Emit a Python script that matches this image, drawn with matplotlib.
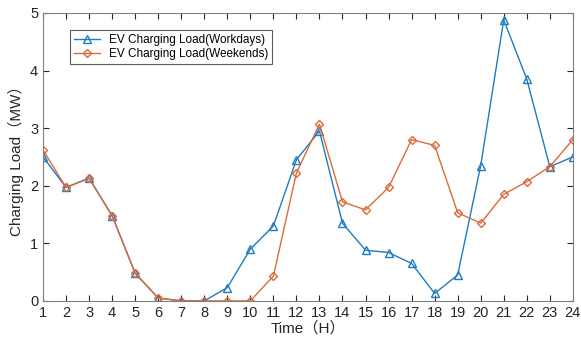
import matplotlib
matplotlib.use("Agg")
import matplotlib.pyplot as plt

# dati
hours = list(range(1, 25))
workdays = [2.50, 1.97, 2.13, 1.48, 0.48, 0.05, 0.00, 0.00, 0.23, 0.90, 1.30, 2.45,
            2.95, 1.35, 0.88, 0.84, 0.65, 0.13, 0.45, 2.35, 4.88, 3.85, 2.33, 2.50]
weekends = [2.62, 1.97, 2.13, 1.48, 0.48, 0.05, 0.00, 0.00, 0.00, 0.00, 0.43, 2.22,
            3.07, 1.72, 1.58, 1.97, 2.80, 2.70, 1.53, 1.35, 1.85, 2.07, 2.33, 2.80]

plt.rcParams['font.family'] = ['Liberation Sans', 'Noto Sans CJK SC', 'DejaVu Sans']

fig = plt.figure(figsize=(5.81, 3.40), dpi=100)
ax = fig.add_axes([0.074, 0.115, 0.912, 0.847])

ax.plot(hours, workdays, color='#1f7cc0', marker='^', markerfacecolor='none',
        markersize=5.5, linewidth=1.0, label='EV Charging Load(Workdays)')
ax.plot(hours, weekends, color='#dc6a3a', marker='D', markerfacecolor='none',
        markersize=4.5, linewidth=1.0, label='EV Charging Load(Weekends)')

ax.set_xlim(1, 24)
ax.set_ylim(0, 5)
ax.set_xticks(hours)
ax.set_yticks([0, 1, 2, 3, 4, 5])
ax.tick_params(direction='in', top=True, right=True, labelsize=10.5,
               colors='#262626', length=4)
for s in ax.spines.values():
    s.set_color('#808080')
    s.set_linewidth(0.8)

ax.set_xlabel('Time（H）', fontsize=11, color='#262626', labelpad=1)
ax.set_ylabel('Charging Load（MW）', fontsize=11, color='#262626', labelpad=4)

leg = ax.legend(loc='upper left', bbox_to_anchor=(0.04, 0.96), fontsize=8.5,
                fancybox=False, edgecolor='#333333', handlelength=2.2,
                borderpad=0.3, labelspacing=0.2)
leg.get_frame().set_linewidth(0.8)

fig.savefig('out.png', dpi=100)
